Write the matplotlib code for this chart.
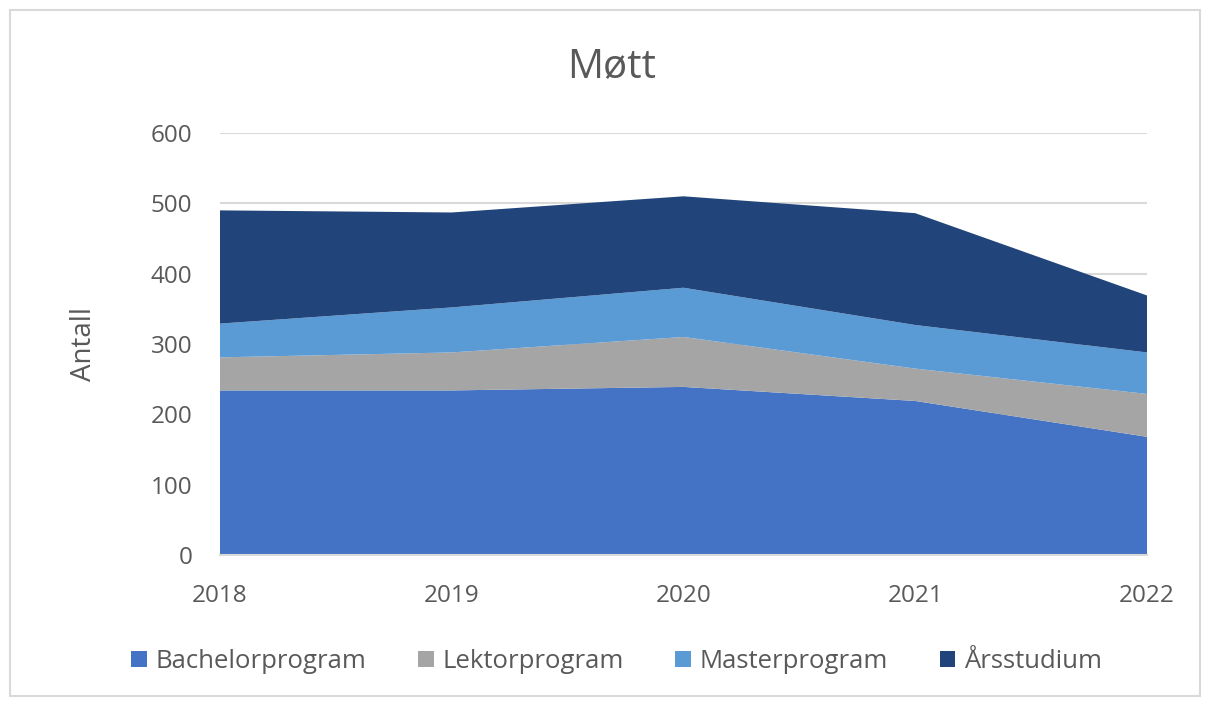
import matplotlib.pyplot as plt
from matplotlib.patches import Rectangle

plt.rcParams['font.family'] = ['Open Sans', 'DejaVu Sans']

years = [2018, 2019, 2020, 2021, 2022]
bachelor = [234, 234, 239, 219, 168]
lektor = [47, 54, 71, 46, 61]
master = [48, 64, 70, 62, 59]
arsstudium = [161, 135, 130, 159, 81]

labels = ['Bachelorprogram', 'Lektorprogram', 'Masterprogram', 'Årsstudium']
colors = ['#4472C4', '#A5A5A5', '#5B9BD5', '#21457A']
text_color = '#595959'

fig = plt.figure(figsize=(12.14, 7.04), dpi=100)
ax = fig.add_axes([220 / 1214, 149 / 704, 927 / 1214, 422 / 704])

ax.stackplot(years, bachelor, lektor, master, arsstudium,
             labels=labels, colors=colors, zorder=3)

ax.set_xlim(2018, 2022)
ax.set_ylim(0, 600)
ax.set_yticks(range(0, 601, 100))
ax.set_xticks(years)
ax.grid(axis='y', color='#D9D9D9', linewidth=1.5, zorder=0)
for s in ['top', 'right', 'left']:
    ax.spines[s].set_visible(False)
ax.spines['bottom'].set_color('#D9D9D9')
ax.spines['bottom'].set_linewidth(1.5)
ax.spines['bottom'].set_zorder(4)
ax.tick_params(axis='both', length=0, labelsize=17.5, colors=text_color)
ax.tick_params(axis='y', pad=20)
ax.tick_params(axis='x', pad=21)

ax.set_ylabel('Antall', fontsize=20, color=text_color, labelpad=38)
fig.text(0.504, 0.905, 'Møtt', ha='center', va='center', fontsize=29, color=text_color)

leg = fig.legend(loc='center', bbox_to_anchor=(0.508, 0.06), ncol=4, frameon=False,
                 fontsize=18.5, labelcolor=text_color, handlelength=0.6, handleheight=0.6,
                 handletextpad=0.35, columnspacing=2.0)

# chart border
fig.patches.append(Rectangle((10 / 1214, 8 / 704), 1190 / 1214, 686 / 704,
                             transform=fig.transFigure, fill=False,
                             edgecolor='#D9D9D9', linewidth=1.5))

fig.savefig('out.png', dpi=100)
